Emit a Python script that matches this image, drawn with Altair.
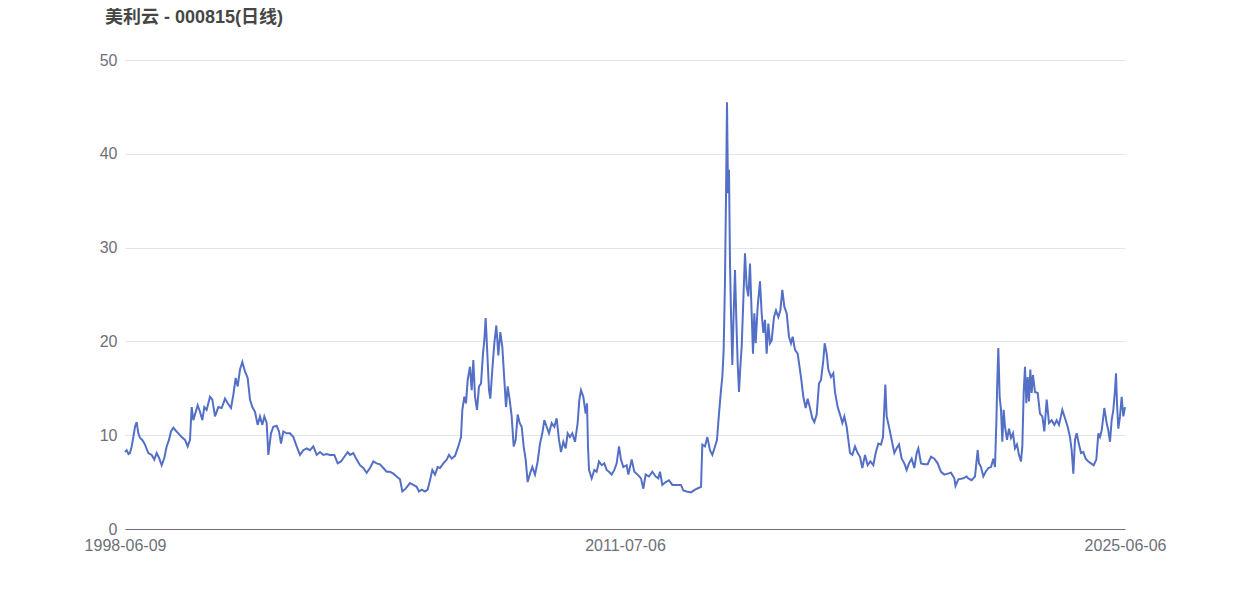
import altair as alt
import pandas as pd

title_text = "美利云 - 000815(日线)"
tick_labels = ["1998-06-09", "2011-07-06", "2025-06-06"]
tick_positions = [0, 3000, 6000]

day_index = [
    0, 10, 21, 30, 40, 50, 60, 70, 80, 90, 104, 120, 140, 160, 176, 190, 204, 220, 236, 250,
    264, 276, 290, 304, 320, 340, 360, 376, 390, 400, 410, 420, 436, 450, 464, 476, 490, 510, 524, 540,
    560, 580, 600, 616, 636, 650, 664, 676, 690, 704, 720, 736, 750, 764, 780, 796, 810, 824, 836, 850,
    860, 876, 890, 910, 924, 936, 950, 970, 990, 1010, 1030, 1050, 1070, 1090, 1110, 1130, 1150, 1170, 1190, 1210,
    1230, 1256, 1276, 1296, 1316, 1336, 1350, 1370, 1390, 1410, 1430, 1450, 1470, 1490, 1510, 1530, 1550, 1570, 1590, 1610,
    1630, 1650, 1664, 1684, 1710, 1730, 1750, 1764, 1780, 1800, 1816, 1830, 1844, 1860, 1876, 1890, 1910, 1930, 1944, 1960,
    1980, 2000, 2016, 2024, 2036, 2046, 2056, 2070, 2080, 2090, 2100, 2112, 2124, 2136, 2148, 2156, 2164, 2174, 2184, 2192,
    2204, 2216, 2228, 2240, 2252, 2264, 2276, 2286, 2296, 2308, 2320, 2332, 2344, 2356, 2368, 2380, 2392, 2404, 2416, 2430,
    2444, 2460, 2476, 2490, 2504, 2516, 2530, 2544, 2560, 2576, 2590, 2604, 2616, 2630, 2644, 2656, 2670, 2684, 2700, 2716,
    2726, 2736, 2750, 2764, 2772, 2778, 2784, 2800, 2816, 2830, 2844, 2860, 2876, 2890, 2904, 2920, 2936, 2950, 2964, 2976,
    2990, 3010, 3020, 3040, 3056, 3076, 3096, 3110, 3124, 3144, 3164, 3184, 3200, 3210, 3224, 3244, 3264, 3284, 3310, 3336,
    3350, 3370, 3396, 3420, 3444, 3456, 3464, 3480, 3494, 3510, 3524, 3540, 3552, 3564, 3576, 3584, 3592, 3600, 3606, 3612,
    3618, 3624, 3630, 3636, 3644, 3652, 3660, 3668, 3676, 3684, 3692, 3700, 3710, 3720, 3730, 3740, 3750, 3760, 3768, 3776,
    3784, 3796, 3810, 3820, 3830, 3840, 3850, 3860, 3870, 3880, 3894, 3906, 3920, 3932, 3944, 3956, 3970, 3984, 3996, 4006,
    4020, 4036, 4056, 4070, 4084, 4096, 4110, 4124, 4136, 4150, 4164, 4176, 4190, 4198, 4210, 4220, 4236, 4250, 4260, 4276,
    4290, 4304, 4316, 4330, 4340, 4350, 4364, 4380, 4396, 4410, 4424, 4440, 4456, 4472, 4490, 4504, 4520, 4536, 4548, 4556,
    4562, 4570, 4584, 4600, 4616, 4630, 4644, 4660, 4676, 4690, 4704, 4720, 4736, 4750, 4760, 4776, 4796, 4816, 4836, 4856,
    4876, 4896, 4916, 4936, 4956, 4976, 4983, 5000, 5030, 5050, 5060, 5080, 5100, 5116, 5124, 5136, 5150, 5164, 5180, 5196,
    5210, 5220, 5228, 5234, 5240, 5248, 5256, 5264, 5272, 5280, 5292, 5304, 5316, 5328, 5340, 5352, 5364, 5376, 5384, 5392,
    5400, 5408, 5416, 5424, 5432, 5440, 5448, 5460, 5476, 5490, 5504, 5516, 5530, 5544, 5560, 5576, 5590, 5604, 5624, 5640,
    5656, 5670, 5680, 5690, 5700, 5710, 5724, 5736, 5750, 5764, 5780, 5796, 5812, 5828, 5840, 5850, 5860, 5876, 5890, 5900,
    5910, 5920, 5930, 5940, 5946, 5952, 5960, 5970, 5980, 5990, 6000,
]

close_price = [
    8.2, 8.4, 8.0, 8.1, 8.8, 9.8, 10.9, 11.4, 10.2, 9.7, 9.5, 9.0, 8.1, 7.9, 7.4, 8.1, 7.6, 6.8, 7.6, 8.8,
    9.5, 10.4, 10.8, 10.5, 10.2, 9.8, 9.5, 8.8, 9.5, 13.0, 11.6, 12.2, 13.2, 12.5, 11.6, 13.0, 12.7, 14.1, 13.8, 12.0,
    13.0, 12.9, 13.9, 13.4, 12.9, 14.3, 16.1, 15.2, 17.0, 17.8, 16.8, 16.1, 13.8, 13.0, 12.5, 11.1, 12.0, 11.1, 12.0, 11.3,
    7.9, 10.2, 10.9, 11.0, 10.4, 9.1, 10.4, 10.2, 10.2, 9.8, 8.8, 7.9, 8.4, 8.6, 8.4, 8.8, 7.9, 8.2, 7.9, 8.0,
    7.9, 7.9, 7.0, 7.2, 7.7, 8.2, 7.9, 8.1, 7.4, 6.8, 6.5, 6.0, 6.5, 7.2, 7.0, 6.9, 6.5, 6.1, 6.1, 5.9,
    5.6, 5.3, 4.0, 4.3, 4.9, 4.7, 4.5, 4.0, 4.2, 4.0, 4.2, 5.2, 6.3, 5.8, 6.6, 6.5, 7.0, 7.4, 7.9, 7.5,
    7.8, 8.8, 9.8, 12.7, 14.1, 13.4, 15.9, 17.3, 14.8, 18.0, 14.1, 12.7, 15.2, 15.5, 18.7, 20.1, 22.5, 18.7, 14.8, 13.9,
    17.0, 19.8, 21.7, 18.5, 21.0, 19.4, 15.9, 13.0, 15.2, 13.8, 12.0, 8.8, 9.5, 12.2, 11.3, 10.9, 8.8, 7.4, 5.0, 5.9,
    6.6, 5.8, 7.2, 9.1, 10.2, 11.6, 10.9, 10.2, 11.3, 10.9, 11.8, 9.5, 8.2, 9.3, 8.6, 10.2, 9.8, 10.2, 9.3, 11.3,
    13.8, 14.8, 14.1, 12.3, 13.4, 8.8, 6.3, 5.4, 6.3, 6.1, 7.2, 6.8, 7.0, 6.3, 6.1, 5.8, 6.3, 7.0, 8.8, 7.4,
    6.6, 6.8, 5.8, 7.4, 6.1, 5.8, 5.4, 4.3, 5.8, 5.6, 6.1, 5.6, 5.4, 6.1, 4.7, 5.0, 5.2, 4.7, 4.7, 4.7,
    4.1, 4.0, 3.9, 4.2, 4.4, 4.5, 9.0, 8.8, 9.8, 8.4, 7.9, 8.8, 9.5, 12.3, 14.8, 16.2, 19.1, 26.5, 35.4, 45.5,
    35.8, 38.3, 28.3, 23.0, 17.5, 23.0, 27.6, 22.3, 17.7, 14.6, 17.3, 19.4, 24.4, 29.4, 25.8, 24.8, 28.3, 23.0, 18.7, 23.0,
    19.8, 23.7, 26.4, 23.0, 20.9, 22.3, 18.7, 21.9, 19.8, 20.1, 22.6, 23.3, 22.6, 23.3, 25.5, 23.7, 23.0, 20.5, 19.8, 20.5,
    19.1, 18.7, 16.2, 14.1, 12.9, 13.9, 12.9, 11.8, 11.4, 12.2, 15.5, 15.9, 18.0, 19.8, 18.7, 17.0, 16.2, 16.6, 14.6, 13.0,
    12.2, 11.3, 12.0, 10.9, 9.5, 8.1, 7.9, 8.8, 8.1, 7.7, 6.5, 7.9, 6.8, 7.2, 6.8, 8.1, 9.1, 9.0, 9.8, 13.0,
    15.4, 12.0, 10.9, 9.5, 8.1, 8.6, 9.0, 7.5, 7.0, 6.3, 7.0, 7.5, 6.5, 8.1, 8.6, 7.0, 6.9, 6.9, 7.7, 7.5,
    7.0, 6.1, 5.8, 5.9, 6.0, 5.4, 4.6, 5.3, 5.4, 5.6, 5.4, 5.2, 5.6, 8.4, 7.0, 6.6, 5.6, 6.1, 6.5, 6.6,
    7.5, 6.6, 11.3, 15.9, 19.3, 14.1, 12.7, 9.3, 12.7, 10.9, 9.5, 10.7, 9.7, 10.2, 8.6, 9.0, 7.9, 7.2, 8.8, 14.5,
    17.3, 13.4, 16.2, 13.6, 17.0, 14.5, 16.4, 14.6, 14.5, 12.3, 12.0, 10.4, 13.8, 11.3, 11.6, 11.1, 11.6, 11.1, 12.7, 11.8,
    10.9, 9.8, 8.4, 5.9, 9.5, 10.2, 9.0, 8.1, 8.2, 7.5, 7.2, 7.0, 6.8, 7.4, 10.2, 9.8, 10.5, 12.9, 11.3, 10.5,
    9.3, 11.6, 12.7, 14.8, 16.6, 13.4, 10.7, 12.0, 14.1, 12.0, 13.0,
]

df = pd.DataFrame({"day": day_index, "close": close_price})

label_expr = " : ".join(
    f"datum.value == {p} ? '{l}'" for p, l in zip(tick_positions, tick_labels)
) + " : ''"

font = "Liberation Sans, Noto Sans CJK SC, sans-serif"

chart = (
    alt.Chart(df)
    .mark_line(color="#5470c6", strokeWidth=2)
    .encode(
        x=alt.X(
            "day:Q",
            scale=alt.Scale(domain=[0, 6000], nice=False, zero=False),
            axis=alt.Axis(
                title=None,
                values=tick_positions,
                labelExpr=label_expr,
                labelFlush=False,
                labelOverlap=False,
                grid=False,
                ticks=False,
                domainColor="#6e7079",
                domainWidth=1,
                labelColor="#6e7079",
                labelFontSize=16,
                labelFont=font,
                labelPadding=8,
            ),
        ),
        y=alt.Y(
            "close:Q",
            scale=alt.Scale(domain=[0, 50], nice=False),
            axis=alt.Axis(
                title=None,
                values=[0, 10, 20, 30, 40, 50],
                domain=False,
                ticks=False,
                gridColor="#e0e6f1",
                gridWidth=1,
                labelColor="#6e7079",
                labelFontSize=16,
                labelFont=font,
                labelPadding=8,
            ),
        ),
    )
    .properties(
        width=1000,
        height=469,
        autosize=alt.AutoSizeParams(type="none"),
        padding={"left": 117, "top": 52, "right": 110, "bottom": 60},
        title=alt.TitleParams(
            text=title_text,
            anchor="start",
            frame="group",
            fontSize=18,
            fontWeight="bold",
            color="#464646",
            font=font,
            dx=-20,
            offset=25,
        ),
    )
    .configure_view(stroke=None)
)

chart.save("out.html", embed_options={"renderer": "svg", "actions": False})
